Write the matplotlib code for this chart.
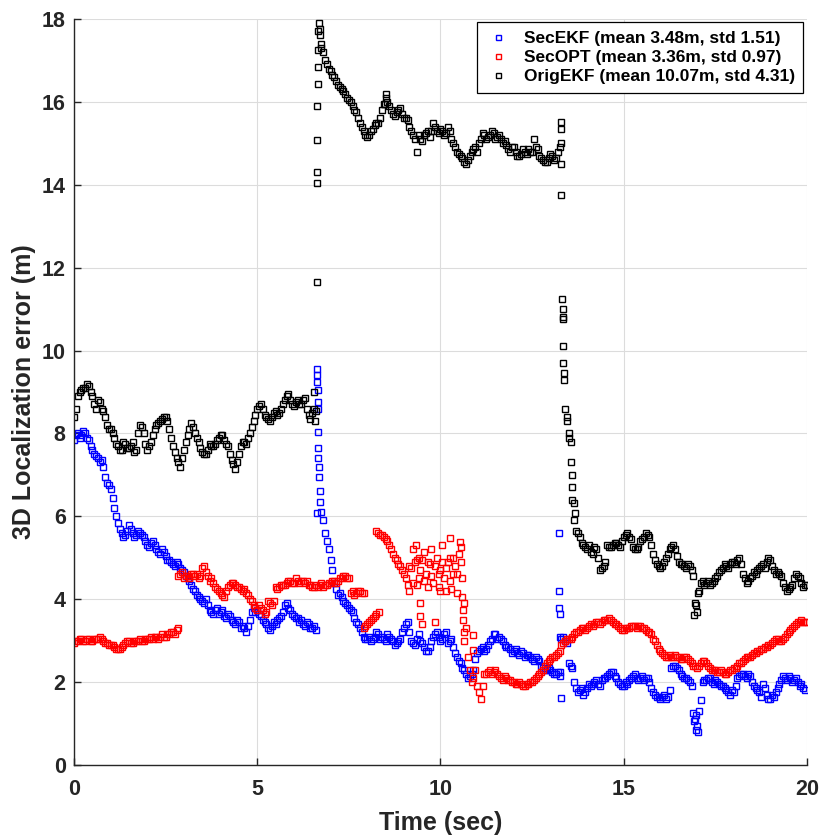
import numpy as np
import matplotlib
matplotlib.use("Agg")
import matplotlib.pyplot as plt

# ---------------- data ----------------
time_a = np.round(np.arange(0, 200) * 0.1, 2)          # 0.00, 0.10 ... 19.90 s
time_b = np.round(np.arange(0, 200) * 0.1 + 0.05, 2)   # 0.05, 0.15 ... 19.95 s

sec_ekf_a = [
 7.85, 8.0, 7.95, 8.0, 7.85, 7.6, 7.45, 7.3, 7.2, 6.8,      # 0.0
 6.65, 6.2, 5.85, 5.6, 5.55, 5.8, 5.6, 5.55, 5.6, 5.5,      # 1.0
 5.3, 5.35, 5.3, 5.15, 5.2, 5.05, 4.95, 4.85, 4.9, 4.75,    # 2.0
 4.65, 4.5, 4.35, 4.2, 4.05, 3.95, 4.0, 3.75, 3.65, 3.8,    # 3.0
 3.7, 3.6, 3.65, 3.5, 3.4, 3.45, 3.35, 3.2, 3.5, 3.8,       # 4.0
 3.75, 3.6, 3.45, 3.3, 3.35, 3.4, 3.55, 3.7, 3.9, 3.75,     # 5.0
 3.6, 3.55, 3.5, 3.35, 3.4, 3.3, 3.25, 6.35, 5.9, 5.4,      # 6.0
 4.95, 4.4, 4.1, 4.05, 3.9, 3.8, 3.7, 3.45, 3.3, 3.1,       # 7.0
 3.05, 3.0, 3.1, 3.15, 3.1, 3.0, 3.1, 3.0, 2.95, 3.05,      # 8.0
 3.3, 3.45, 3.0, 2.9, 3.15, 2.95, 2.75, 2.85, 3.1, 3.2,     # 9.0
 3.0, 3.15, 2.95, 3.05, 2.7, 2.5, 2.35, 2.2, 2.15, 2.3,     # 10.0
 2.7, 2.8, 2.75, 2.9, 3.05, 3.15, 3.1, 3.0, 2.85, 2.8,      # 11.0
 2.75, 2.7, 2.75, 2.6, 2.65, 2.55, 2.6, 2.5, 2.35, 2.3,     # 12.0
 2.3, 2.2, 2.25, 3.05, 3.0, 2.45, 2.35, 1.85, 1.8, 1.7,     # 13.0
 1.85, 1.9, 2.0, 1.95, 2.05, 2.1, 2.2, 2.25, 2.1, 1.95,     # 14.0
 1.9, 1.95, 2.1, 2.2, 2.05, 2.15, 2.1, 2.0, 1.75, 1.65,     # 15.0
 1.6, 1.7, 1.65, 2.35, 2.4, 2.3, 2.15, 2.1, 2.0, 1.25,      # 16.0
 0.95, 1.57, 2.05, 2.1, 2.0, 2.05, 1.95, 1.9, 1.8, 1.7,     # 17.0
 1.75, 2.1, 2.2, 2.15, 2.2, 2.0, 1.85, 1.75, 1.95, 1.7,     # 18.0
 1.6, 1.65, 1.85, 2.05, 2.1, 2.15, 2.0, 2.1, 1.9, 1.85,     # 19.0
]
sec_ekf_b = [
 7.95, 7.9, 8.05, 7.9, 7.7, 7.5, 7.4, 7.35, 6.95, 6.75,     # 0.05
 6.45, 6.0, 5.7, 5.5, 5.65, 5.7, 5.5, 5.65, 5.55, 5.4,      # 1.05
 5.25, 5.4, 5.2, 5.1, 5.15, 4.95, 4.9, 4.8, 4.85, 4.7,      # 2.05
 4.55, 4.45, 4.25, 4.1, 4.0, 3.9, 3.85, 3.7, 3.75, 3.65,    # 3.05
 3.75, 3.55, 3.6, 3.45, 3.5, 3.3, 3.3, 3.35, 3.7, 3.7,      # 4.05
 3.65, 3.5, 3.4, 3.25, 3.45, 3.5, 3.6, 3.85, 3.8, 3.65,     # 5.05
 3.55, 3.45, 3.4, 3.45, 3.3, 3.35, 8.6, 6.1, 5.6, 5.2,      # 6.05
 4.7, 4.25, 4.15, 3.95, 3.85, 3.75, 3.55, 3.4, 3.2, 3.05,   # 7.05
 3.1, 3.05, 3.2, 3.05, 3.05, 3.15, 3.05, 2.9, 3.0, 3.2,     # 8.05
 3.4, 3.2, 2.95, 3.05, 3.0, 2.85, 2.75, 3.0, 3.15, 3.1,     # 9.05
 3.05, 3.2, 3.0, 2.85, 2.6, 2.45, 2.3, 2.1, 2.2, 2.55,      # 10.05
 2.75, 2.85, 2.8, 3.0, 3.15, 3.05, 3.05, 2.9, 2.85, 2.7,    # 11.05
 2.8, 2.65, 2.7, 2.65, 2.6, 2.5, 2.55, 2.4, 2.3, 2.35,      # 12.05
 2.25, 2.2, 2.15, 3.1, 2.95, 2.4, 2.0, 1.75, 1.85, 1.75,    # 13.05
 1.95, 1.95, 2.05, 1.9, 2.1, 2.15, 2.25, 2.15, 2.0, 1.9,    # 14.05
 2.0, 2.05, 2.15, 2.1, 2.1, 2.05, 2.1, 1.85, 1.7, 1.65,     # 15.05
 1.65, 1.6, 1.8, 2.4, 2.35, 2.2, 2.1, 2.05, 1.9, 1.1,       # 16.05
 1.3, 2.0, 2.05, 2.1, 1.95, 2.0, 1.9, 1.85, 1.75, 1.8,      # 17.05
 1.9, 2.15, 2.2, 2.1, 2.15, 1.9, 1.8, 1.65, 1.85, 1.6,      # 18.05
 1.7, 1.75, 1.95, 2.15, 2.05, 2.1, 2.05, 2.0, 1.95, 1.8,    # 19.05
]
sec_ekf_extra_t = [6.63, 6.64, 6.64, 6.65, 6.65, 6.66, 6.66, 6.67, 6.68, 6.68, 6.7, 6.63,
                   13.22, 13.22, 13.23, 13.25, 13.25, 13.27, 13.28,
                   16.93, 16.96, 16.98, 17.02]
sec_ekf_extra_y = [9.55, 9.4, 9.25, 9.05, 8.75, 8.03, 7.64, 7.4, 7.19, 6.95, 6.6, 6.07,
                   5.6, 4.2, 3.8, 3.65, 3.1, 2.25, 1.62,
                   1.05, 0.85, 1.2, 0.8]

sec_opt_a = [
 2.95, 3.0, 3.05, 3.0, 3.05, 3.0, 3.05, 3.1, 3.0, 2.95,     # 0.0
 2.9, 2.85, 2.8, 2.85, 2.95, 3.0, 2.95, 3.0, 3.05, 3.0,     # 1.0
 3.05, 3.1, 3.1, 3.05, 3.15, 3.1, 3.15, 3.2, 3.25, 4.6,     # 2.0
 4.5, 4.55, 4.6, 4.55, 4.5, 4.75, 4.65, 4.45, 4.4, 4.25,    # 3.0
 4.15, 4.05, 4.3, 4.4, 4.35, 4.3, 4.2, 4.15, 4.0, 3.85,     # 4.0
 3.75, 3.8, 3.65, 3.95, 3.85, 4.3, 4.3, 4.35, 4.4, 4.45,    # 5.0
 4.4, 4.45, 4.45, 4.4, 4.35, 4.3, 4.35, 4.35, 4.3, 4.35,    # 6.0
 4.4, 4.45, 4.45, 4.5, 4.55, 4.5, 4.2, 4.15, 4.2, 3.3,      # 7.0
 3.4, 3.5, 3.6, 5.6, 5.55, 5.45, 5.3, 5.1, 4.95, 4.8,       # 8.0
 4.6, 4.35, 4.75, 4.9, 4.5, 4.95, 4.6, 4.85, 4.4, 5.0,      # 9.0
 4.7, 4.5, 4.9, 4.25, 4.8, 5.1, 4.5, 3.3, 2.3, 2.1,         # 10.0
 1.9, 1.6, 2.2, 2.25, 2.2, 2.3, 2.15, 2.05, 2.1, 2.05,      # 11.0
 2.0, 1.95, 1.95, 1.9, 1.95, 2.0, 2.1, 2.2, 2.3, 2.45,      # 12.0
 2.55, 2.6, 2.7, 2.9, 3.0, 3.05, 3.1, 3.2, 3.25, 3.3,       # 13.0
 3.3, 3.4, 3.4, 3.45, 3.45, 3.5, 3.55, 3.45, 3.4, 3.3,      # 14.0
 3.25, 3.3, 3.35, 3.35, 3.35, 3.3, 3.25, 3.2, 3.05, 2.9,    # 15.0
 2.75, 2.65, 2.6, 2.6, 2.65, 2.6, 2.55, 2.6, 2.5, 2.4,      # 16.0
 2.35, 2.45, 2.5, 2.4, 2.3, 2.3, 2.25, 2.25, 2.2, 2.3,      # 17.0
 2.35, 2.4, 2.45, 2.55, 2.6, 2.65, 2.7, 2.75, 2.8, 2.85,    # 18.0
 2.9, 3.0, 3.05, 3.0, 3.1, 3.2, 3.3, 3.4, 3.45, 3.45,       # 19.0
]
sec_opt_b = [
 3.0, 3.05, 3.0, 3.05, 3.0, 3.05, 3.05, 3.05, 2.95, 2.9,    # 0.05
 2.9, 2.8, 2.8, 2.9, 3.0, 2.95, 3.0, 3.0, 3.0, 3.05,        # 1.05
 3.05, 3.05, 3.1, 3.1, 3.1, 3.15, 3.2, 3.15, 3.3, 4.65,     # 2.05
 4.55, 4.5, 4.6, 4.6, 4.55, 4.8, 4.55, 4.5, 4.3, 4.2,       # 3.05
 4.1, 4.2, 4.35, 4.4, 4.3, 4.25, 4.25, 4.1, 3.95, 3.8,      # 4.05
 3.85, 3.75, 3.7, 3.9, 3.95, 4.25, 4.35, 4.35, 4.45, 4.4,   # 5.05
 4.5, 4.4, 4.45, 4.45, 4.35, 4.3, 4.3, 4.4, 4.35, 4.4,      # 6.05
 4.45, 4.4, 4.5, 4.55, 4.5, 4.15, 4.1, 4.2, 4.15, 3.35,     # 7.05
 3.45, 3.55, 3.65, 5.55, 5.5, 5.4, 5.2, 5.0, 4.85, 4.7,     # 8.05
 4.5, 4.8, 4.4, 4.95, 4.7, 4.45, 4.9, 4.55, 4.8, 4.6,       # 9.05
 4.9, 4.75, 4.45, 5.0, 4.6, 4.9, 3.9, 2.6, 2.0, 2.3,        # 10.05
 1.75, 1.9, 2.2, 2.3, 2.25, 2.2, 2.1, 2.15, 2.05, 2.0,      # 11.05
 1.95, 2.0, 1.9, 1.95, 2.0, 2.05, 2.15, 2.25, 2.4, 2.5,     # 12.05
 2.6, 2.65, 2.75, 2.95, 3.05, 3.05, 3.15, 3.2, 3.3, 3.25,   # 13.05
 3.35, 3.35, 3.45, 3.4, 3.5, 3.5, 3.5, 3.4, 3.35, 3.25,     # 14.05
 3.3, 3.3, 3.35, 3.3, 3.35, 3.3, 3.2, 3.15, 3.0, 2.8,       # 15.05
 2.7, 2.6, 2.65, 2.6, 2.6, 2.55, 2.6, 2.55, 2.45, 2.4,      # 16.05
 2.4, 2.5, 2.45, 2.35, 2.3, 2.25, 2.3, 2.2, 2.25, 2.3,      # 17.05
 2.35, 2.45, 2.5, 2.6, 2.6, 2.7, 2.75, 2.8, 2.85, 2.9,      # 18.05
 2.95, 3.05, 3.0, 3.05, 3.15, 3.25, 3.35, 3.45, 3.5, 3.45,  # 19.05
]
sec_opt_extra_t = [2.85, 7.9, 8.25, 8.32,
                   9.15, 9.25, 9.32, 9.35, 9.45, 9.45, 9.5, 9.55, 9.65, 9.75, 9.85,
                   9.95, 10.05, 10.15, 10.25, 10.27, 10.35, 10.45, 10.54, 10.55, 9.4, 10.0,
                   10.6, 10.61, 10.62, 10.63, 10.64, 10.9, 10.9, 20.0]
sec_opt_extra_y = [4.55, 4.15, 5.65, 3.7,
                   4.2, 5.2, 5.3, 4.35, 3.9, 3.6, 3.4, 5.15, 4.3, 5.2, 3.45,
                   4.3, 5.3, 4.2, 5.0, 5.47, 4.6, 4.15, 5.38, 5.25, 5.0, 4.2,
                   4.05, 3.75, 3.5, 3.2, 3.0, 3.13, 2.77, 3.45]

orig_ekf_a = [
 8.4, 8.9, 9.05, 9.1, 9.15, 8.9, 8.6, 8.75, 8.55, 8.2,      # 0.0
 8.1, 7.9, 7.7, 7.6, 7.75, 7.65, 7.8, 7.6, 8.2, 8.0,        # 1.0
 7.6, 7.8, 8.1, 8.25, 8.35, 8.4, 8.1, 7.7, 7.4, 7.2,        # 2.0
 7.6, 7.95, 8.25, 8.0, 7.8, 7.55, 7.5, 7.75, 7.7, 7.85,     # 3.0
 7.95, 7.85, 7.7, 7.35, 7.15, 7.5, 7.8, 7.75, 8.0, 8.3,     # 4.0
 8.6, 8.7, 8.45, 8.35, 8.4, 8.55, 8.5, 8.7, 8.9, 8.8,       # 5.0
 8.65, 8.8, 8.7, 8.85, 8.45, 8.5, 8.55, 17.6, 17.2, 16.9,   # 6.0
 16.75, 16.6, 16.4, 16.3, 16.2, 16.05, 15.9, 15.75, 15.5, 15.3,  # 7.0
 15.15, 15.3, 15.45, 15.5, 15.8, 16.1, 15.9, 15.7, 15.75, 15.85, # 8.0
 15.6, 15.55, 15.3, 15.1, 15.2, 15.05, 15.25, 15.15, 15.5, 15.3, # 9.0
 15.35, 15.2, 15.4, 15.1, 14.9, 14.75, 14.65, 14.5, 14.7, 14.85, # 10.0
 14.8, 15.1, 15.2, 15.15, 15.3, 15.1, 15.2, 15.0, 14.95, 14.8,   # 11.0
 14.9, 14.7, 14.75, 14.8, 14.85, 14.8, 14.9, 14.7, 14.6, 14.55,  # 12.0
 14.75, 14.6, 14.8, 15.0, 8.6, 7.9, 6.4, 5.65, 5.5, 5.3,    # 13.0
 5.2, 5.15, 5.25, 5.0, 4.75, 4.9, 5.25, 5.3, 5.35, 5.25,    # 14.0
 5.5, 5.6, 5.45, 5.2, 5.25, 5.45, 5.6, 5.5, 5.1, 4.85,      # 15.0
 4.75, 4.9, 5.1, 5.25, 5.2, 4.9, 4.85, 4.75, 4.8, 4.55,     # 16.0
 3.7, 4.4, 4.35, 4.45, 4.4, 4.5, 4.65, 4.75, 4.8, 4.85,     # 17.0
 4.9, 4.95, 4.85, 4.5, 4.45, 4.55, 4.6, 4.75, 4.85, 4.9,    # 18.0
 4.95, 4.7, 4.65, 4.55, 4.3, 4.25, 4.35, 4.6, 4.5, 4.3,     # 19.0
]
orig_ekf_b = [
 8.6, 9.0, 9.1, 9.2, 9.0, 8.7, 8.8, 8.6, 8.4, 8.1,          # 0.05
 8.0, 7.75, 7.6, 7.8, 7.65, 7.7, 7.55, 8.0, 8.15, 7.75,     # 1.05
 7.7, 7.95, 8.2, 8.3, 8.4, 8.3, 7.9, 7.55, 7.3, 7.4,        # 2.05
 7.8, 8.1, 8.15, 7.9, 7.65, 7.5, 7.6, 7.7, 7.75, 7.9,       # 3.05
 7.95, 7.75, 7.5, 7.25, 7.3, 7.7, 7.8, 7.9, 8.15, 8.45,     # 4.05
 8.65, 8.6, 8.4, 8.3, 8.5, 8.45, 8.6, 8.8, 8.95, 8.7,       # 5.05
 8.75, 8.7, 8.8, 8.6, 8.35, 8.6, 17.7, 17.3, 17.0, 16.8,    # 6.05
 16.65, 16.5, 16.35, 16.25, 16.1, 16.0, 15.8, 15.6, 15.4, 15.2,  # 7.05
 15.2, 15.35, 15.5, 15.6, 15.95, 16.0, 15.8, 15.65, 15.8, 15.7,  # 8.05
 15.6, 15.4, 15.2, 14.8, 15.1, 15.2, 15.3, 15.3, 15.4, 15.25,    # 9.05
 15.3, 15.25, 15.3, 15.0, 14.8, 14.7, 14.55, 14.6, 14.8, 14.9,   # 10.05
 15.0, 15.25, 15.1, 15.2, 15.25, 15.15, 15.1, 15.05, 14.85, 14.9, # 11.05
 14.8, 14.7, 14.85, 14.75, 14.8, 15.1, 14.85, 14.65, 14.55, 14.65, # 12.05
 14.7, 14.65, 14.9, 11.0, 8.3, 7.3, 5.9, 5.6, 5.35, 5.25,   # 13.05
 5.3, 5.1, 5.2, 4.7, 4.8, 5.3, 5.25, 5.35, 5.3, 5.4,        # 14.05
 5.55, 5.5, 5.25, 5.2, 5.4, 5.5, 5.55, 5.3, 4.95, 4.8,      # 15.05
 4.8, 5.0, 5.2, 5.3, 5.05, 4.85, 4.8, 4.85, 4.7, 3.9,       # 16.05
 4.2, 4.45, 4.4, 4.35, 4.45, 4.55, 4.7, 4.85, 4.75, 4.9,    # 17.05
 4.85, 5.0, 4.6, 4.4, 4.5, 4.65, 4.7, 4.8, 4.75, 5.0,       # 18.05
 4.8, 4.6, 4.6, 4.4, 4.2, 4.3, 4.5, 4.55, 4.4, 4.35,        # 19.05
]
orig_ekf_extra_t = [6.55, 6.58, 6.63, 6.63, 6.63, 6.64, 6.64, 6.65, 6.65, 6.66, 6.68, 6.72, 6.75,
                    8.5, 8.48,
                    13.28, 13.28, 13.29, 13.3, 13.32, 13.33, 13.33, 13.34, 13.35, 13.36, 13.37,
                    13.45, 13.5, 13.55, 13.58, 13.6, 13.64, 13.66,
                    16.92, 16.96, 17.03, 20.0]
orig_ekf_extra_y = [9.0, 8.3, 11.65, 14.03, 14.31, 15.08, 15.91, 16.44, 16.83, 17.25, 17.9, 17.75, 17.4,
                    16.2, 15.95,
                    15.52, 15.35, 14.5, 13.75, 11.25, 10.8, 10.75, 10.1, 9.7, 9.45, 9.3,
                    8.4, 8.0, 7.8, 7.0, 6.7, 6.33, 6.07,
                    3.62, 3.85, 4.15, 4.35]

labels = ["SecEKF (mean 3.48m, std 1.51)",
          "SecOPT (mean 3.36m, std 0.97)",
          "OrigEKF (mean 10.07m, std 4.31)"]
x_ticks = [0, 5, 10, 15, 20]
y_ticks = [0, 2, 4, 6, 8, 10, 12, 14, 16, 18]

# ---------------- drawing ----------------
plt.rcParams['font.family'] = ['Liberation Sans', 'DejaVu Sans']
fig = plt.figure(figsize=(8.28, 8.36), dpi=100)
ax = fig.add_axes([0.0894, 0.0849, 0.8852, 0.8925])

mk = dict(marker='s', linestyle='none', markerfacecolor='none',
          markersize=4.0, markeredgewidth=1.0)

series = [
    (sec_ekf_a, sec_ekf_b, sec_ekf_extra_t, sec_ekf_extra_y, 'blue'),
    (sec_opt_a, sec_opt_b, sec_opt_extra_t, sec_opt_extra_y, 'red'),
    (orig_ekf_a, orig_ekf_b, orig_ekf_extra_t, orig_ekf_extra_y, 'black'),
]
for (va, vb, et, ey, col), lab in zip(series, labels):
    tt = np.concatenate([time_a, time_b, et])
    yy = np.concatenate([np.asarray(va, float), np.asarray(vb, float), ey])
    order = np.argsort(tt, kind='stable')
    ax.plot(tt[order], yy[order], color=col, markeredgecolor=col, label=lab, **mk)

ax.set_xlim(0, 20)
ax.set_ylim(0, 18)
ax.set_xticks(x_ticks)
ax.set_yticks(y_ticks)
ax.grid(True, color='#dcdcdc', linewidth=0.8)
ax.set_axisbelow(True)
for s in ['top', 'right']:
    ax.spines[s].set_visible(False)
for s in ['left', 'bottom']:
    ax.spines[s].set_color('#262626')
    ax.spines[s].set_linewidth(1.0)
ax.tick_params(direction='in', length=5, width=1.0, colors='#262626', labelsize=15.5)
ax.tick_params(axis='x', pad=10)
ax.tick_params(axis='y', pad=6)
for lb in ax.get_xticklabels() + ax.get_yticklabels():
    lb.set_fontweight('bold')

ax.set_xlabel("Time (sec)", fontsize=18, fontweight='bold', color='#262626', labelpad=8)
ax.set_ylabel("3D Localization error (m)", fontsize=18, fontweight='bold', color='#262626', labelpad=4)

leg = ax.legend(loc='upper right', prop={'weight': 'bold', 'size': 12.5},
                frameon=True, fancybox=False, edgecolor='black', framealpha=1,
                borderpad=0.5, labelspacing=0.22, handletextpad=0.8, handlelength=1.4,
                borderaxespad=0.2, markerscale=0.9)
leg.get_frame().set_linewidth(0.9)

fig.savefig("out.png", dpi=100)
